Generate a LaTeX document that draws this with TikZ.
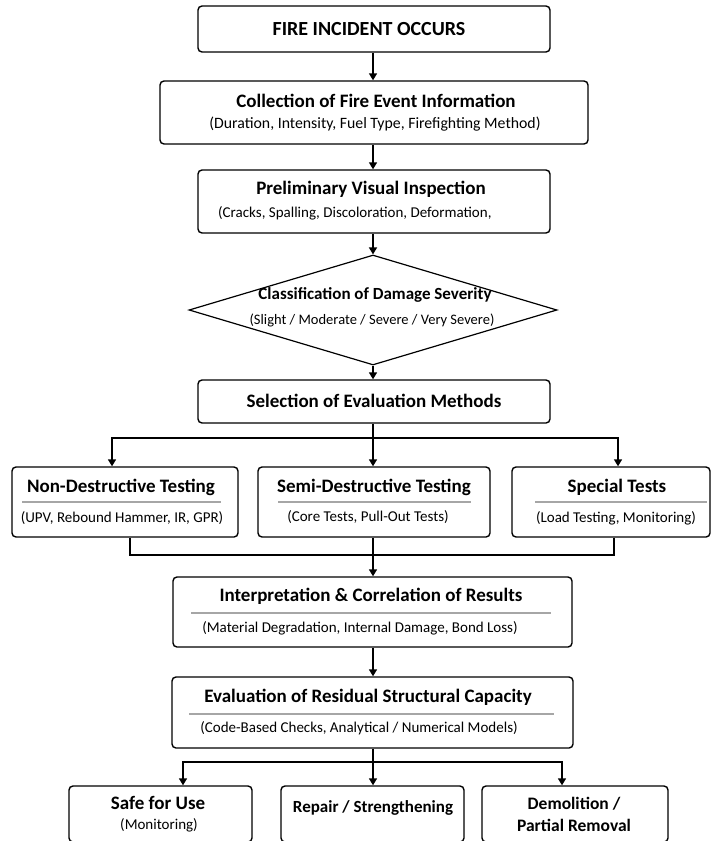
\documentclass[tikz,border=0pt]{standalone}
\usepackage{fontspec}
\setmainfont{Carlito}
\usepackage{tikz}
\usetikzlibrary{shapes.geometric, arrows.meta, positioning, calc}

\begin{document}
\begin{tikzpicture}[x=1pt, y=-1pt,
    box/.style={rectangle, draw=black, fill=white, rounded corners=4pt, line width=1.4pt, inner sep=0pt},
    decision/.style={diamond, draw=black, fill=white, line width=1.2pt, inner sep=0pt, aspect=3.35, minimum width=368, minimum height=110},
    ttl/.style={inner sep=0pt, font=\fontsize{19}{22}\selectfont\bfseries},
    sub/.style={inner sep=0pt, font=\fontsize{15}{18}\selectfont},
    sepline/.style={draw=gray!70, line width=1.3pt},
    wire/.style={line width=1.6pt, draw=black},
    arr/.style={-{Triangle[length=7pt, width=8pt]}, line width=1.6pt, draw=black}
]
    \useasboundingbox (0,0) rectangle (710,841);
    \coordinate (axis) at (373, 0);

    % Tầng trên: sự cố và thu thập thông tin
    \node[box, minimum width=352, minimum height=46] (fire) at (374, 29) {};
    \node[ttl, font=\fontsize{20}{22}\selectfont\bfseries] (fire_t) at (369, 29) {FIRE INCIDENT OCCURS};

    \node[box, minimum width=428, minimum height=63] (collect) at (374, 112.5) {};
    \node[ttl] (collect_t) at (376, 101) {Collection of Fire Event Information};
    \node[sub, font=\fontsize{15.8}{18}\selectfont] (collect_s) at (375, 124) {(Duration, Intensity, Fuel Type, Firefighting Method)};

    \node[box, minimum width=352, minimum height=63] (visual) at (374, 201.5) {};
    \node[ttl] (visual_t) at (371, 189) {Preliminary Visual Inspection};
    \node[sub, anchor=west] (visual_s) at (218, 213) {(Cracks, Spalling, Discoloration, Deformation,};

    \draw[arr] (fire.south -| axis) -- (axis |- collect.north);
    \draw[arr] (collect.south -| axis) -- (axis |- visual.north);

    % Phân loại mức độ hư hỏng
    \node[decision] (classify) at (373, 310) {};
    \node[ttl, font=\fontsize{17}{20}\selectfont\bfseries] (classify_t) at (375, 295) {Classification of Damage Severity};
    \node[sub, font=\fontsize{14.5}{17}\selectfont] (classify_s) at (372, 320) {(Slight / Moderate / Severe / Very Severe)};

    \node[box, minimum width=352, minimum height=43] (select) at (374, 401.5) {};
    \node[ttl] (select_t) at (374, 401) {Selection of Evaluation Methods};

    \draw[arr] (visual.south -| axis) -- (classify.north);
    \draw[arr] (classify.south) -- (axis |- select.north);

    % Ba nhóm phương pháp thử
    \node[box, minimum width=226, minimum height=70] (ndt) at (125, 502) {};
    \node[ttl] (ndt_t) at (121, 487) {Non-Destructive Testing};
    \draw[sepline] ($(ndt.west)+(11,0)$) -- ($(ndt.east)+(-18,0)$);
    \node[sub] (ndt_s) at (122, 518) {(UPV, Rebound Hammer, IR, GPR)};

    \node[box, minimum width=232, minimum height=70] (sdt) at (374, 502) {};
    \node[ttl] (sdt_t) at (374, 487) {Semi-Destructive Testing};
    \draw[sepline] ($(sdt.west)+(21,0)$) -- ($(sdt.east)+(-20,0)$);
    \node[sub] (sdt_s) at (368, 517) {(Core Tests, Pull-Out Tests)};

    \node[box, minimum width=198, minimum height=70] (special) at (611, 502) {};
    \node[ttl] (special_t) at (617, 487) {Special Tests};
    \draw[sepline] ($(special.west)+(24,0)$) -- ($(special.east)+(-4,0)$);
    \node[sub] (special_s) at (616, 518) {(Load Testing, Monitoring)};

    \coordinate (split_top) at ($(select.south -| axis)+(0,14)$);
    \draw[wire] (select.south -| axis) -- (split_top);
    \draw[arr] (split_top) -| ($(ndt.north)+(-13,0)$);
    \draw[arr] (split_top) -- (axis |- sdt.north);
    \draw[arr] (split_top) -| ($(special.north)+(7,0)$);

    % Tổng hợp kết quả
    \node[box, minimum width=399, minimum height=70] (interp) at (372.5, 612) {};
    \node[ttl] (interp_t) at (371, 596) {Interpretation \& Correlation of Results};
    \draw[sepline] ($(interp.west)+(19,1)$) -- ($(interp.east)+(-22,1)$);
    \node[sub] (interp_s) at (360, 628) {(Material Degradation, Internal Damage, Bond Loss)};

    \coordinate (merge_mid) at ($(sdt.south -| axis)+(0,17)$);
    \draw[wire] ($(ndt.south)+(5,0)$) |- (merge_mid);
    \draw[wire] ($(special.south)+(3,0)$) |- (merge_mid);
    \draw[arr] (sdt.south -| axis) -- (axis |- interp.north);

    \node[box, minimum width=401, minimum height=71] (evalcap) at (372.5, 712.5) {};
    \node[ttl] (evalcap_t) at (368, 697) {Evaluation of Residual Structural Capacity};
    \draw[sepline] ($(evalcap.west)+(18,1.5)$) -- ($(evalcap.east)+(-20,1.5)$);
    \node[sub] (evalcap_s) at (359, 728) {(Code-Based Checks, Analytical / Numerical Models)};

    \draw[arr] (interp.south -| axis) -- (axis |- evalcap.north);

    % Kết luận
    \node[box, minimum width=183, minimum height=56] (safe) at (160.5, 814) {};
    \node[ttl] (safe_t) at (158, 803) {Safe for Use};
    \node[sub] (safe_s) at (159, 825) {(Monitoring)};

    \node[box, minimum width=183, minimum height=56] (repair) at (372.5, 814) {};
    \node[ttl, font=\fontsize{17}{20}\selectfont\bfseries] (repair_t) at (373, 808) {Repair / Strengthening};

    \node[box, minimum width=186, minimum height=56] (demol) at (575, 814) {};
    \node[ttl, font=\fontsize{17.5}{22}\selectfont\bfseries, align=center] (demol_t) at (574, 814) {Demolition /\\Partial Removal};

    \coordinate (split_bot) at ($(evalcap.south -| axis)+(0,13)$);
    \draw[wire] (evalcap.south -| axis) -- (split_bot);
    \draw[arr] (split_bot) -| ($(safe.north)+(22.5,0)$);
    \draw[arr] (split_bot) -- (axis |- repair.north);
    \draw[arr] (split_bot) -| ($(demol.north)+(-13,0)$);
\end{tikzpicture}
\end{document}
